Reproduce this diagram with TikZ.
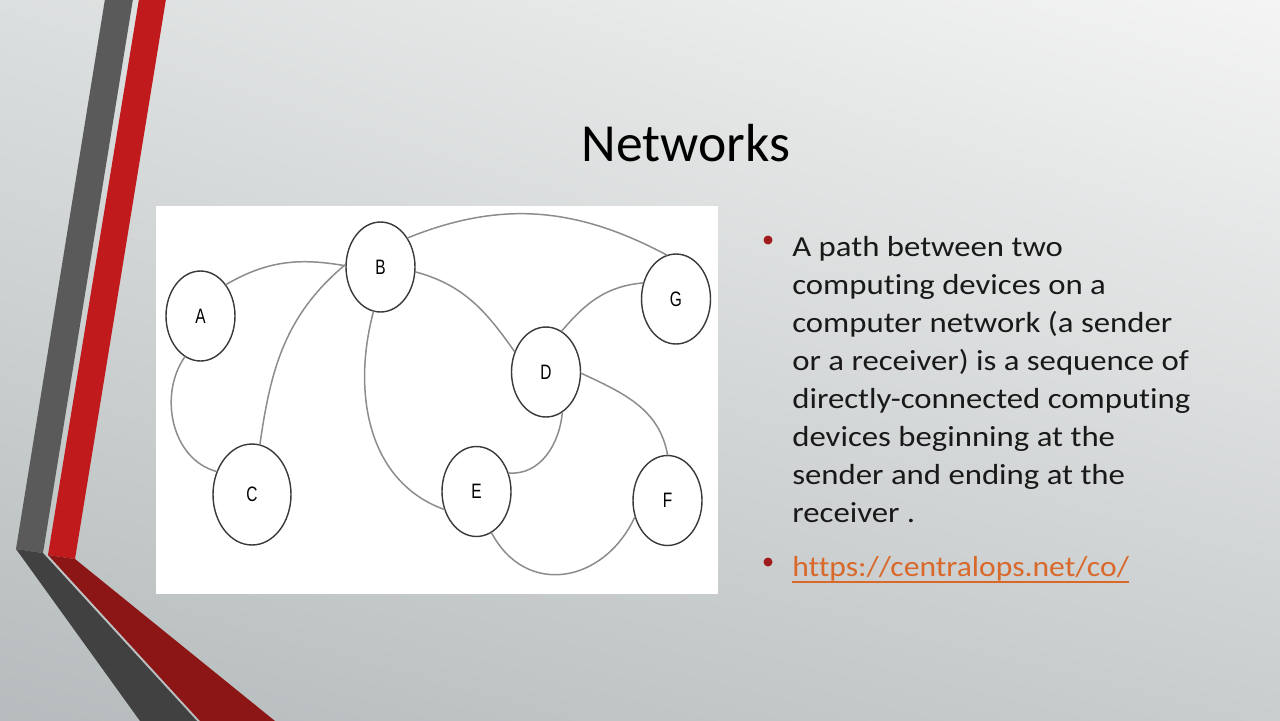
\documentclass[tikz,border=0pt]{standalone}
\usepackage{fontspec}
\setmainfont{Carlito}
\newfontfamily\bodyfont{Carlito}[FakeStretch=1.13,Ligatures=NoCommon]
\newfontfamily\urlfont{Carlito}[FakeStretch=1.09,Ligatures=NoCommon]
\newfontfamily\labelfont{Liberation Sans}
\usetikzlibrary{shapes.geometric,calc,shadings}
\definecolor{bgtl}{HTML}{DCDFDF}
\definecolor{bgtr}{HTML}{F4F4F4}
\definecolor{bgbl}{HTML}{B6BCBD}
\definecolor{bgbr}{HTML}{C9CDCE}
\definecolor{stripegray}{HTML}{5A5A5A}
\definecolor{stripered}{HTML}{C01A1C}
\definecolor{foldgray}{HTML}{414141}
\definecolor{foldred}{HTML}{8C1515}
\definecolor{circgray}{HTML}{3A3A3A}
\definecolor{edgegray}{HTML}{8C8C8C}
\definecolor{bulletred}{HTML}{A01C1C}
\definecolor{urlorange}{HTML}{D9692A}
\begin{document}
\begin{tikzpicture}[x=0.02cm,y=-0.02cm,line join=round,line cap=round,
    vertex/.style={draw=circgray,line width=0.8pt,ellipse,fill=white,inner sep=0pt,
      minimum width=1.38cm,minimum height=1.8cm,font=\labelfont\fontsize{8.8}{10}\selectfont},
    link/.style={draw=edgegray,line width=0.85pt},
    body/.style={anchor=base west,inner sep=0pt,text=black!90,font=\bodyfont\fontsize{16.5}{21.6}\selectfont}]
  \useasboundingbox (0,0) rectangle (1280,720);
  \shade[upper left=bgtl,upper right=bgtr,lower left=bgbl,lower right=bgbr] (0,0) rectangle (1280,720);
  % stripes
  \fill[stripegray] (105,-1) -- (133,-1) -- (43,553) -- (16,549) -- cycle;
  \fill[stripered] (139,-1) -- (166,-1) -- (75,559) -- (48,555) -- cycle;
  \fill[foldgray] (16,549) -- (43,553) -- (197,721) -- (140,721) -- cycle;
  \fill[foldred] (48,555) -- (75,559) -- (275,721) -- (200,721) -- cycle;
  \node[anchor=base,inner sep=0pt,font=\fontsize{30.5}{36}\selectfont] (title) at (686,161) {Networks};
  % graph
  \fill[white] (156,206) rectangle (718,594);
  \node[vertex] (A) at (200.5,316) {\scalebox{1}[1.35]{A}};
  \node[vertex] (B) at (380.5,267) {\scalebox{1}[1.35]{B}};
  \node[vertex,minimum width=1.56cm,minimum height=2.02cm] (C) at (252,494.5) {\scalebox{1}[1.35]{C}};
  \node[vertex] (D) at (546,372) {\scalebox{1}[1.35]{D}};
  \node[vertex] (E) at (476.5,491.5) {\scalebox{1}[1.35]{E}};
  \node[vertex] (F) at (667.5,500.5) {\scalebox{1}[1.35]{F}};
  \node[vertex] (G) at (676,299) {\scalebox{1}[1.35]{G}};
  \draw[link] (A.51) to[out=30,in=170] (B.178);
  \draw[link] (A.249) to[out=235,in=165] (C.147);
  \draw[link] (B.176) to[out=220,in=82] (C.81);
  \draw[link] (B.261) to[out=255,in=160] (E.209);
  \draw[link] (B.47) to[out=22,in=152] (G.102);
  \draw[link] (B.-8) to[out=-15,in=125] (D.147);
  \draw[link] (D.69) to[out=50,in=185] (G.154);
  \draw[link] (D.-68) to[out=265,in=-5] (E.30);
  \draw[link] (D.-2) to[out=-25,in=100] (F.90);
  \draw[link] (E.-70) to[out=-62,in=245,looseness=1.3] (F.207);
  % text
  \fill[bulletred] (768,240) circle (4.5);
  \foreach \t [count=\i from 0] in {A path between two,computing devices on a,computer network (a sender,or a receiver) is a sequence of,directly-connected computing,devices beginning at the,sender and ending at the,receiver .}
    \node[body] (line\i) at (792,256.7+38*\i) {\t};
  \fill[bulletred] (768,562) circle (4.5);
  \node[body,text=urlorange,font=\urlfont\fontsize{16.5}{21.6}\selectfont] (url) at (792,576) {https://centralops.net/co/};
  \draw[urlorange,line width=0.8pt,line cap=butt] ($(url.base west)+(0,6)$) -- ($(url.base east)+(0,6)$);
\end{tikzpicture}
\end{document}
